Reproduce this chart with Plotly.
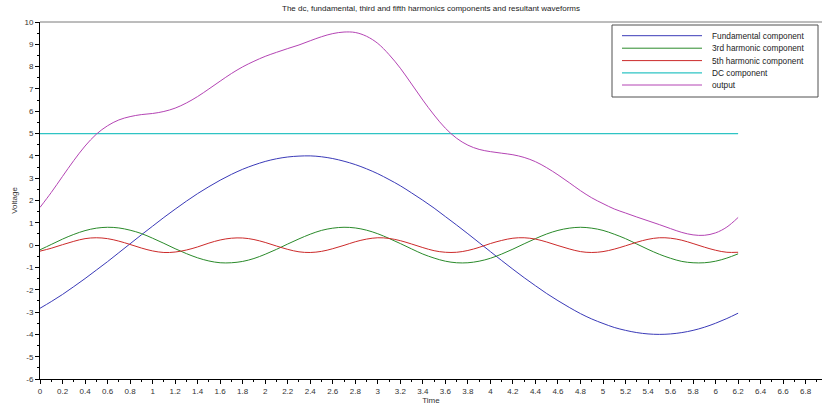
import plotly.graph_objects as go

# ---------------- data ----------------
time = [0.0, 0.1, 0.2, 0.3, 0.4, 0.5, 0.6, 0.7, 0.8, 0.9,
        1.0, 1.1, 1.2, 1.3, 1.4, 1.5, 1.6, 1.7, 1.8, 1.9,
        2.0, 2.1, 2.2, 2.3, 2.4, 2.5, 2.6, 2.7, 2.8, 2.9,
        3.0, 3.1, 3.2, 3.3, 3.4, 3.5, 3.6, 3.7, 3.8, 3.9,
        4.0, 4.1, 4.2, 4.3, 4.4, 4.5, 4.6, 4.7, 4.8, 4.9,
        5.0, 5.1, 5.2, 5.3, 5.4, 5.5, 5.6, 5.7, 5.8, 5.9,
        6.0, 6.1, 6.2]

fundamental = [-2.83, -2.53, -2.21, -1.86, -1.50, -1.12, -0.74, -0.34, 0.06, 0.46,
               0.85, 1.24, 1.61, 1.97, 2.31, 2.62, 2.91, 3.17, 3.40, 3.59,
               3.75, 3.87, 3.95, 3.99, 4.00, 3.96, 3.88, 3.76, 3.61, 3.42,
               3.20, 2.94, 2.66, 2.34, 2.01, 1.66, 1.28, 0.90, 0.51, 0.11,
               -0.29, -0.69, -1.08, -1.46, -1.82, -2.17, -2.49, -2.79, -3.07, -3.31,
               -3.51, -3.69, -3.82, -3.92, -3.98, -4.00, -3.98, -3.92, -3.82, -3.68,
               -3.50, -3.29, -3.05]

third = [-0.21, 0.03, 0.27, 0.48, 0.65, 0.76, 0.80, 0.77, 0.67, 0.52,
         0.31, 0.08, -0.16, -0.38, -0.57, -0.71, -0.79, -0.79, -0.73, -0.60,
         -0.41, -0.19, 0.05, 0.28, 0.49, 0.66, 0.76, 0.80, 0.77, 0.67,
         0.51, 0.30, 0.07, -0.17, -0.40, -0.58, -0.72, -0.79, -0.79, -0.72,
         -0.59, -0.40, -0.18, 0.06, 0.29, 0.50, 0.66, 0.76, 0.80, 0.76,
         0.66, 0.49, 0.29, 0.05, -0.19, -0.41, -0.59, -0.73, -0.79, -0.79,
         -0.72, -0.58, -0.39]

fifth = [-0.27, -0.14, 0.02, 0.17, 0.29, 0.33, 0.29, 0.18, 0.03, -0.13,
         -0.26, -0.33, -0.31, -0.22, -0.08, 0.09, 0.23, 0.31, 0.32, 0.25,
         0.12, -0.04, -0.19, -0.30, -0.33, -0.28, -0.16, -0.01, 0.15, 0.27,
         0.33, 0.30, 0.20, 0.05, -0.11, -0.25, -0.32, -0.32, -0.24, -0.10,
         0.07, 0.21, 0.31, 0.33, 0.27, 0.14, -0.02, -0.17, -0.29, -0.33,
         -0.29, -0.18, -0.03, 0.13, 0.26, 0.33, 0.31, 0.22, 0.07, -0.09,
         -0.23, -0.32, -0.32]

dc_time = [0.0, 6.2]
dc = [5.0, 5.0]

output = [1.69, 2.36, 3.08, 3.79, 4.44, 4.97, 5.35, 5.61, 5.76, 5.85,
          5.90, 5.99, 6.14, 6.37, 6.66, 7.00, 7.35, 7.69, 7.99, 8.24,
          8.46, 8.64, 8.81, 8.97, 9.16, 9.34, 9.48, 9.55, 9.53, 9.36,
          9.04, 8.54, 7.93, 7.22, 6.50, 5.83, 5.24, 4.79, 4.48, 4.29,
          4.19, 4.12, 4.05, 3.93, 3.74, 3.47, 3.15, 2.80, 2.44, 2.12,
          1.86, 1.62, 1.44, 1.26, 1.09, 0.92, 0.74, 0.57, 0.46, 0.44,
          0.55, 0.81, 1.24]

series_names = ["Fundamental component", "3rd harmonic component",
                "5th harmonic component", "DC component", "output"]
series_colors = ["#3a3ab8", "#2a8a2a", "#cc2a2a", "#2ec4c4", "#b444b4"]

x_tick_values = [0, 0.2, 0.4, 0.6, 0.8, 1, 1.2, 1.4, 1.6, 1.8, 2, 2.2, 2.4, 2.6, 2.8,
                 3, 3.2, 3.4, 3.6, 3.8, 4, 4.2, 4.4, 4.6, 4.8, 5, 5.2, 5.4, 5.6, 5.8,
                 6, 6.2, 6.4, 6.6, 6.8]
x_tick_labels = ["0", "0.2", "0.4", "0.6", "0.8", "1", "1.2", "1.4", "1.6", "1.8",
                 "2", "2.2", "2.4", "2.6", "2.8", "3", "3.2", "3.4", "3.6", "3.8",
                 "4", "4.2", "4.4", "4.6", "4.8", "5", "5.2", "5.4", "5.6", "5.8",
                 "6", "6.2", "6.4", "6.6", "6.8"]
y_tick_values = [-6, -5, -4, -3, -2, -1, 0, 1, 2, 3, 4, 5, 6, 7, 8, 9, 10]
y_tick_labels = ["-6", "-5", "-4", "-3", "-2", "-1", "0", "1", "2", "3",
                 "4", "5", "6", "7", "8", "9", "10"]

title_text = "The dc, fundamental, third and fifth harmonics components and resultant waveforms"

# ---------------- figure ----------------
W, H = 822, 406
ML, MR, MT, MB = 40, 0, 22, 27
PW, PH = W - ML - MR, H - MT - MB
FONT = "Liberation Sans, Arial, sans-serif"

fig = go.Figure()
xs = [time, time, time, dc_time, time]
ys = [fundamental, third, fifth, dc, output]
for name, col, xv, yv in zip(series_names, series_colors, xs, ys):
    fig.add_trace(go.Scatter(x=xv, y=yv, mode="lines", name=name, hoverinfo="skip",
                             line=dict(color=col, width=1.2 if name == "DC component" else 1,
                                       shape="spline", smoothing=1.0)))


def px_x(p):
    return (p - ML) / PW


def px_y(p):
    return (H - MB - p) / PH


shapes = []
annotations = []
# top frame line (gray)
shapes.append(dict(type="line", xref="paper", yref="paper", x0=0, x1=1, y0=1, y1=1,
                   line=dict(color="#7a7a7a", width=1)))
# legend box
shapes.append(dict(type="rect", xref="paper", yref="paper",
                   x0=px_x(612), x1=px_x(818), y0=px_y(97), y1=px_y(25),
                   line=dict(color="#505050", width=1), fillcolor="white", layer="above"))
row_y = [35.7, 48.2, 60.6, 72.8, 85.0]
for name, col, ry in zip(series_names, series_colors, row_y):
    shapes.append(dict(type="line", xref="paper", yref="paper",
                       x0=px_x(622), x1=px_x(702), y0=px_y(ry), y1=px_y(ry),
                       line=dict(color=col, width=1.2 if name == "DC component" else 1),
                       layer="above"))
    annotations.append(dict(text=name, xref="paper", yref="paper", x=px_x(710), y=px_y(ry),
                            xanchor="left", yanchor="middle", showarrow=False,
                            font=dict(family=FONT, size=8.3, color="#222")))

axis_common = dict(ticks="outside", ticklen=4, tickwidth=1, tickcolor="#000",
                   showline=True, linecolor="#000", linewidth=1,
                   showgrid=False, zeroline=False, automargin=False,
                   tickfont=dict(family=FONT, size=8, color="#333"))

fig.update_layout(
    width=W, height=H,
    margin=dict(l=ML, r=MR, t=MT, b=MB, pad=0),
    paper_bgcolor="white", plot_bgcolor="white",
    showlegend=False,
    hovermode=False,
    title=dict(text=title_text, x=0.5, xref="paper", xanchor="center",
               y=1 - 8 / H, yref="container", yanchor="middle",
               font=dict(family=FONT, size=8, color="#222")),
    xaxis=dict(range=[0, PW / 112.6], tickmode="array", tickvals=x_tick_values,
               ticktext=x_tick_labels,
               minor=dict(dtick=0.1, tick0=0, ticks="outside", ticklen=2, tickcolor="#000"),
               title=dict(text="Time", standoff=1, font=dict(family=FONT, size=8, color="#333")),
               **axis_common),
    yaxis=dict(range=[-6, 10], tickmode="array", tickvals=y_tick_values,
               ticktext=y_tick_labels,
               minor=dict(dtick=0.5, tick0=0, ticks="outside", ticklen=2, tickcolor="#000"),
               title=dict(text="Voltage", standoff=5, font=dict(family=FONT, size=8, color="#333")),
               **axis_common),
    shapes=shapes,
    annotations=annotations,
)

fig.write_html("out.html", config={"displayModeBar": False, "staticPlot": True},
               post_script="document.body.style.margin='0';document.body.style.overflow='hidden';")
